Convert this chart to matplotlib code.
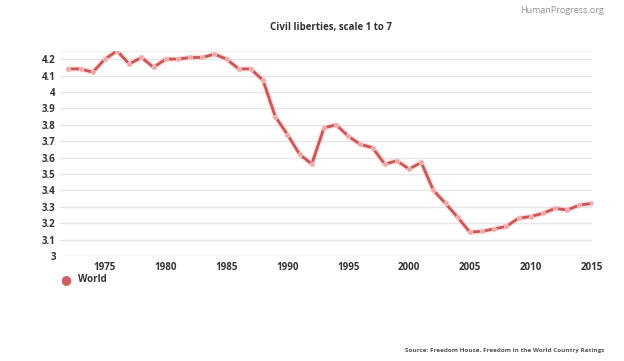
import matplotlib.pyplot as plt
from matplotlib.ticker import FuncFormatter

plt.rcParams['font.family'] = ['Open Sans', 'DejaVu Sans']

years = list(range(1972, 2016))
world = [4.14, 4.14, 4.12, 4.20, 4.25, 4.17, 4.21, 4.15, 4.20, 4.20,
         4.21, 4.21, 4.23, 4.20, 4.14, 4.14, 4.07, 3.85, 3.74, 3.62,
         3.56, 3.78, 3.80, 3.73, 3.68, 3.66, 3.56, 3.58, 3.53, 3.57,
         3.40, 3.32, 3.235, 3.145, 3.15, 3.165, 3.18, 3.23, 3.24, 3.26,
         3.29, 3.28, 3.31, 3.32]
yticks = [3, 3.1, 3.2, 3.3, 3.4, 3.5, 3.6, 3.7, 3.8, 3.9, 4, 4.1, 4.2]
xticks = [1975, 1980, 1985, 1990, 1995, 2000, 2005, 2010, 2015]

fig = plt.figure(figsize=(6.24, 3.61), dpi=100)
ax = fig.add_axes([0.096, 0.291, 0.853, 0.568])

line_color = '#cc5555'
# soft halo under the line
ax.plot(years, world, color='#f2b3b3', lw=4, alpha=0.4, zorder=2, solid_capstyle='round')
ax.plot(years, world, color=line_color, lw=2, zorder=3,
        marker='o', markersize=3.2, markerfacecolor='#eea4a4',
        markeredgecolor='#f6c6c6', markeredgewidth=0.6)

ax.set_xlim(1971.3, 2015.05)
ax.set_ylim(3, 4.25)
ax.set_yticks(yticks)
ax.set_xticks(xticks)
ax.yaxis.set_major_formatter(FuncFormatter(lambda v, p: f'{v:g}'))
ax.grid(axis='y', color='#e6e6e6', lw=0.9, zorder=0)
ax.axhline(4.25, color='#f0f0f0', lw=0.9, zorder=0)
for s in ax.spines.values():
    s.set_visible(False)
ax.tick_params(length=0, labelsize=7, labelcolor='#333333')
ax.tick_params(axis='x', pad=4)
ax.tick_params(axis='y', pad=3)
for lab in ax.get_xticklabels() + ax.get_yticklabels():
    lab.set_fontweight('bold')

fig.text(0.53, 0.925, 'Civil liberties, scale 1 to 7', ha='center', va='center',
         fontsize=7, fontweight='bold', color='#333333')
fig.text(0.968, 0.97, 'HumanProgress.org', ha='right', va='center',
         fontsize=6.5, color='#909090')
fig.text(0.968, 0.03, 'Source: Freedom House, Freedom in the World Country Ratings',
         ha='right', va='center', fontsize=4.6, fontweight='bold', color='#555555')

# legend
fig.text(0.105, 1 - 279.5 / 361, '\u25cf', ha='center', va='center', fontsize=9,
         color='#d06060', family=['DejaVu Sans'])
fig.text(0.125, 1 - 280 / 361, 'World', ha='left', va='center',
         fontsize=7, fontweight='bold', color='#333333')

fig.savefig('out.png', dpi=100, facecolor='white')
